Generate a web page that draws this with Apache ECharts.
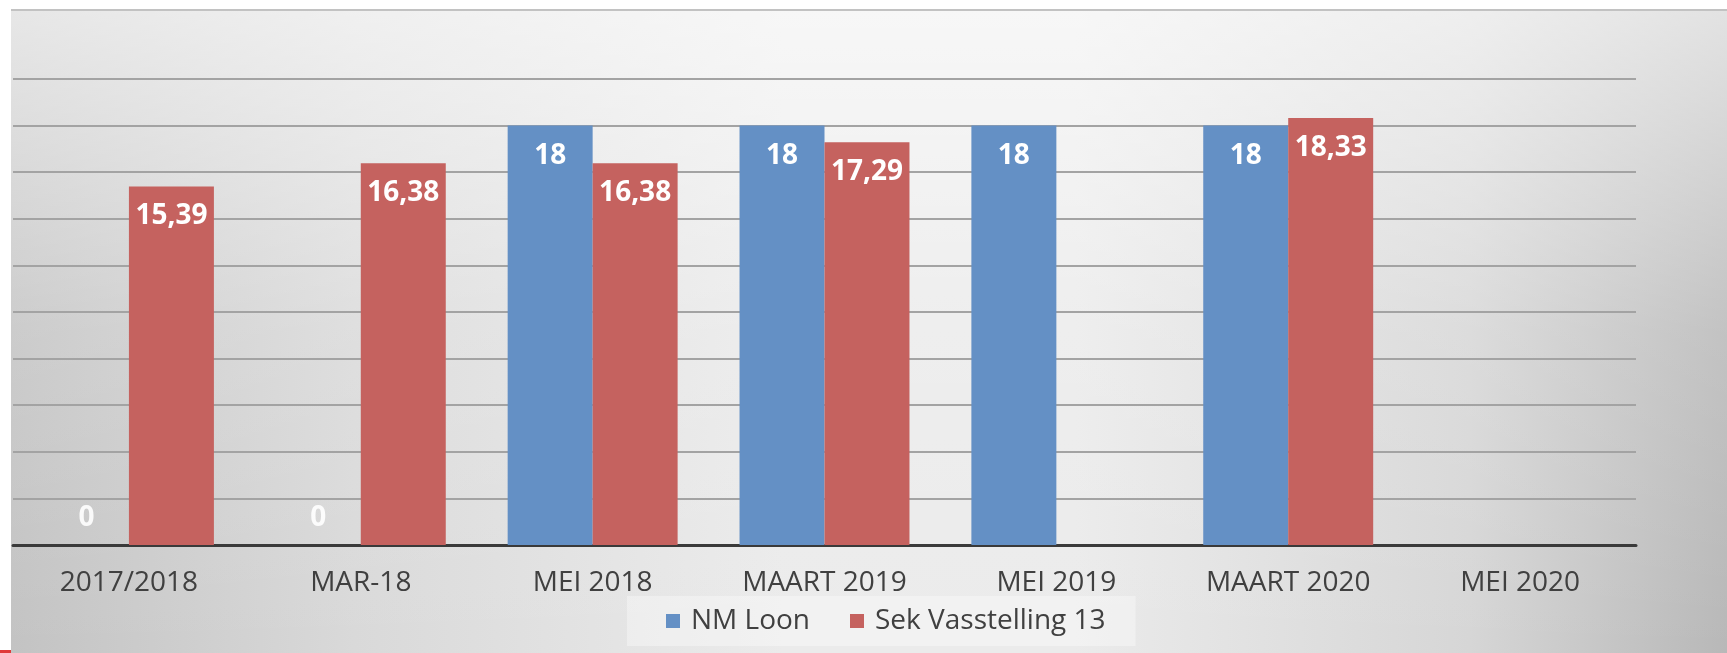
<!DOCTYPE html>
<html>
<head>
<meta charset="utf-8">
<script src="https://cdn.jsdelivr.net/npm/echarts@6/dist/echarts.min.js"></script>
<style>
html,body{margin:0;padding:0;background:#ffffff;}
#chart{width:1727px;height:653px;}
</style>
</head>
<body>
<div id="chart"></div>
<script>
const categories = ['2017/2018', 'MAR-18', 'MEI 2018', 'MAART 2019', 'MEI 2019', 'MAART 2020', 'MEI 2020'];
const nmLoon = [0, 0, 18, 18, 18, 18, null];
const sekVasstelling = [15.39, 16.38, 16.38, 17.29, null, 18.33, null];
const seriesNames = ['NM Loon', 'Sek Vasstelling 13'];

const fmt = v => String(v).replace('.', ',');
function toData(arr) {
  return arr.map(v => {
    if (v === null) return null;
    if (v === 0) {
      return { value: v, label: { position: 'top', distance: 13, color: 'rgba(255,255,255,0.9)' } };
    }
    return v;
  });
}

const chart = echarts.init(document.getElementById('chart'), null, { renderer: 'canvas' });
const labelStyle = {
  show: true,
  position: 'insideTop',
  distance: 16,
  color: '#ffffff',
  fontFamily: 'Open Sans',
  fontWeight: 'bold',
  fontSize: 28,
  formatter: p => fmt(p.value)
};

chart.setOption({
  animation: false,
  graphic: [
    {
      type: 'rect', z: -10, silent: true,
      shape: { x: 11, y: 10, width: 1716, height: 643 },
      style: {
        fill: new echarts.graphic.LinearGradient(0, 0, 1, 0, [
          { offset: 0, color: '#c3c3c3' },
          { offset: 0.2, color: '#d9d9d9' },
          { offset: 0.45, color: '#ebebeb' },
          { offset: 0.62, color: '#ebebeb' },
          { offset: 0.85, color: '#d6d6d6' },
          { offset: 1, color: '#b8b8b8' }
        ])
      }
    },
    {
      type: 'rect', z: -9, silent: true,
      shape: { x: 11, y: 10, width: 1716, height: 643 },
      style: {
        fill: new echarts.graphic.LinearGradient(0, 0, 0, 1, [
          { offset: 0, color: 'rgba(255,255,255,0.6)' },
          { offset: 0.5, color: 'rgba(255,255,255,0.15)' },
          { offset: 1, color: 'rgba(255,255,255,0)' }
        ])
      }
    },
    {
      type: 'line', z: -8, silent: true,
      shape: { x1: 11, y1: 10, x2: 1727, y2: 10 },
      style: { stroke: '#c2c2c2', lineWidth: 2 }
    },
    {
      type: 'rect', z: -8, silent: true,
      shape: { x: 0, y: 650, width: 11, height: 3 },
      style: { fill: '#e03a3a' }
    }
  ],
  grid: { left: 13, right: 91, top: 79, bottom: 108, containLabel: false },
  legend: {
    data: seriesNames,
    left: 627,
    top: 596,
    padding: [11, 30, 11, 39],
    backgroundColor: 'rgba(255,255,255,0.35)',
    itemWidth: 14,
    itemHeight: 14,
    itemGap: 40,
    icon: 'rect',
    textStyle: {
      fontFamily: 'Open Sans',
      fontSize: 28,
      color: '#404040',
      padding: [0, 0, 0, 6]
    }
  },
  xAxis: {
    type: 'category',
    data: categories,
    axisTick: { show: false },
    axisLine: { show: true, lineStyle: { color: '#3a3a3a', width: 3 } },
    axisLabel: {
      color: '#404040',
      fontFamily: 'Open Sans',
      fontSize: 28,
      margin: 24,
      interval: 0
    }
  },
  yAxis: {
    type: 'value',
    min: 0,
    max: 20,
    interval: 2,
    axisLabel: { show: false },
    axisLine: { show: false },
    axisTick: { show: false },
    splitLine: { lineStyle: { color: '#a3a3a3', width: 2 } }
  },
  series: [
    {
      name: seriesNames[0],
      type: 'bar',
      data: toData(nmLoon),
      barGap: '0%',
      barCategoryGap: '26.7%',
      itemStyle: { color: '#6490c5' },
      label: labelStyle
    },
    {
      name: seriesNames[1],
      type: 'bar',
      data: toData(sekVasstelling),
      barGap: '0%',
      barCategoryGap: '26.7%',
      itemStyle: { color: '#c5625f' },
      label: labelStyle
    }
  ]
});
</script>
</body>
</html>
